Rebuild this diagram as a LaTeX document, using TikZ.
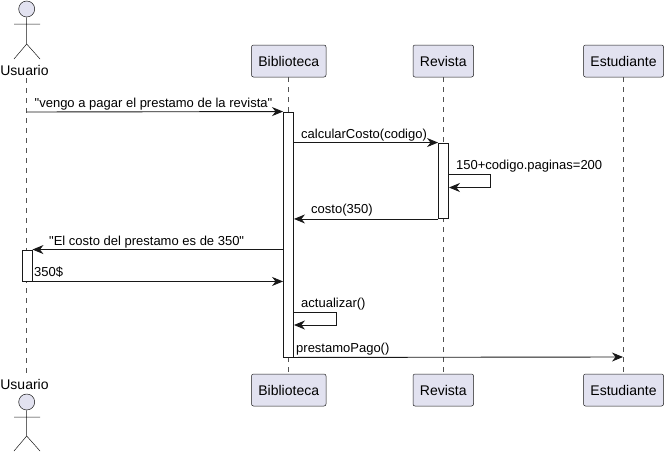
\documentclass[tikz,border=0pt]{standalone}
\usepackage{fontspec}
\setmainfont[Ligatures=TeXOff]{Liberation Sans}
\usetikzlibrary{arrows.meta}
\definecolor{linegray}{HTML}{181818}
\definecolor{boxfill}{HTML}{E2E2F0}
\tikzset{
	partbox/.style = {draw = linegray, line width = .5pt, fill = boxfill, rounded corners = 2pt, inner sep = 0pt, minimum height = 32pt, font = \fontsize{14}{16}\selectfont},
	lifeline/.style = {draw = linegray!75, line width = .6pt, dash pattern = on 5pt off 5pt},
	actbar/.style = {draw = linegray, line width = .9pt, fill = white, inner sep = 0pt, minimum width = 10pt},
	msg/.style = {draw = linegray, line width = .9pt, -{Stealth[length = 11pt, width = 9pt, inset = 3.5pt]}},
	msglabel/.style = {anchor = base west, inner sep = 0pt, text = black, font = \fontsize{13}{15}\selectfont},
	actorname/.style = {anchor = base, inner sep = 0pt, text = black, font = \fontsize{14}{16}\selectfont},
	stick/.style = {draw = linegray, line width = .5pt},
	stickhead/.style = {circle, draw = linegray, line width = .5pt, fill = boxfill, inner sep = 0pt, minimum size = 16pt}
}
\begin{document}
\begin{tikzpicture}[x = 1pt, y = -1pt]
	\useasboundingbox (0,0) rectangle (667,453);
	% participants
	\node[partbox, minimum width = 74.5pt] (bibTop) at (288.75,61) {Biblioteca};
	\node[partbox, minimum width = 60.5pt] (revTop) at (443.25,61) {Revista};
	\node[partbox, minimum width = 80pt] (estTop) at (623.5,61) {Estudiante};
	\node[partbox, minimum width = 74.5pt] (bibBot) at (288.75,390) {Biblioteca};
	\node[partbox, minimum width = 60.5pt] (revBot) at (443.25,390) {Revista};
	\node[partbox, minimum width = 80pt] (estBot) at (623.5,390) {Estudiante};
	\node[actorname] (usrTop) at (24.5,75) {Usuario};
	\node[actorname] (usrBot) at (24.5,389) {Usuario};
	% lifelines
	\coordinate (usrA) at (26.7,78);
	\coordinate (usrB) at (26.7,374);
	\draw[lifeline] (usrA) -- (usrB);
	\draw[lifeline] (bibTop) -- (bibBot);
	\draw[lifeline] (revTop) -- (revBot);
	\draw[lifeline] (estTop) -- (estBot);
	% actors
	\node[stickhead] (headTop) at (26.7,9) {};
	\draw[stick] (headTop.south) -- (26.7,44) (14,24) -- (40,24) (14,59) -- (26.7,44) -- (40,59);
	\node[stickhead] (headBot) at (26.7,402) {};
	\draw[stick] (headBot.south) -- (26.7,436) (14,417) -- (40,417) (14,451) -- (26.7,436) -- (40,451);
	% activations
	\node[actbar, minimum height = 245pt] (barBib) at (288.5,234.5) {};
	\node[actbar, minimum height = 75.5pt] (barRev) at (443.5,180.75) {};
	\node[actbar, minimum height = 31pt] (barUsr) at (27,265.5) {};
	% messages
	\coordinate (usrM) at (26.7,112);
	\coordinate (selfRevA) at (490.5,174);
	\coordinate (selfRevB) at (490.5,187.5);
	\coordinate (selfBibA) at (336,312);
	\coordinate (selfBibB) at (336,325);
	\coordinate (estM) at (623,357);
	\draw[msg] (usrM) -- (barBib.north west);
	\draw[msg] (barBib.east |- barRev.north) -- (barRev.north west);
	\draw[msg] (barRev.east |- selfRevA) -- (selfRevA) -- (selfRevB) -- (barRev.east |- selfRevB);
	\draw[msg] (barRev.south west) -- (barBib.east |- barRev.south);
	\draw[msg] (barBib.west |- barUsr.north) -- (barUsr.north east);
	\draw[msg] (barUsr.south east) -- (barBib.west |- barUsr.south);
	\draw[msg] (barBib.east |- selfBibA) -- (selfBibA) -- (selfBibB) -- (barBib.east |- selfBibB);
	\draw[msg] (barBib.south east) -- (estM);
	% labels
	\node[msglabel] (lblPagar) at (34.5,107) {"vengo a pagar el prestamo de la revista"};
	\node[msglabel] (lblCalc) at (301,138) {calcularCosto(codigo)};
	\node[msglabel] (lblSuma) at (456,169.5) {150+codigo.paginas=200};
	\node[msglabel] (lblCosto) at (311,213) {costo(350)};
	\node[msglabel] (lblDice) at (49,245) {"El costo del prestamo es de 350"};
	\node[msglabel] (lblPago) at (34,276) {350\$};
	\node[msglabel] (lblAct) at (301,307) {actualizar()};
	\node[msglabel] (lblFin) at (296,352) {prestamoPago()};
\end{tikzpicture}
\end{document}
